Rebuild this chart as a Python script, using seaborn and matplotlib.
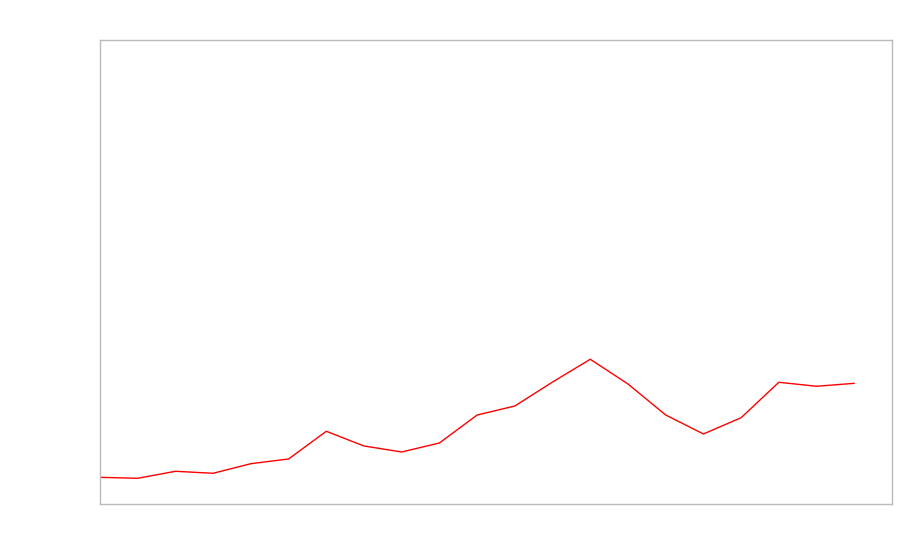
import numpy as np
import pandas as pd
import matplotlib
matplotlib.use("Agg")
import matplotlib.pyplot as plt
import seaborn as sns

# values (y axis 0..100, no labels shown)
steps = list(range(21))
values = [5.75, 5.54, 7.05, 6.62, 8.69, 9.70, 15.67, 12.50, 11.21, 13.15,
          19.18, 21.12, 26.29, 31.19, 25.86, 19.18, 15.09, 18.60, 26.23,
          25.37, 26.01]

df = pd.DataFrame({"step": steps, "value": values})

sns.set_style("white")
fig = plt.figure(figsize=(9, 5.6), dpi=100)
ax = fig.add_axes([0.1111, 0.1, 0.88, 0.8286])

sns.lineplot(data=df, x="step", y="value", color="red", linewidth=1, ax=ax)

ax.set_xlim(0, 21)
ax.set_ylim(0, 100)
ax.set_xticks([])
ax.set_yticks([])
ax.set_xlabel("")
ax.set_ylabel("")
for sp in ax.spines.values():
    sp.set_color("#bbbbbb")
    sp.set_linewidth(1)

fig.savefig("out.png", dpi=100)
